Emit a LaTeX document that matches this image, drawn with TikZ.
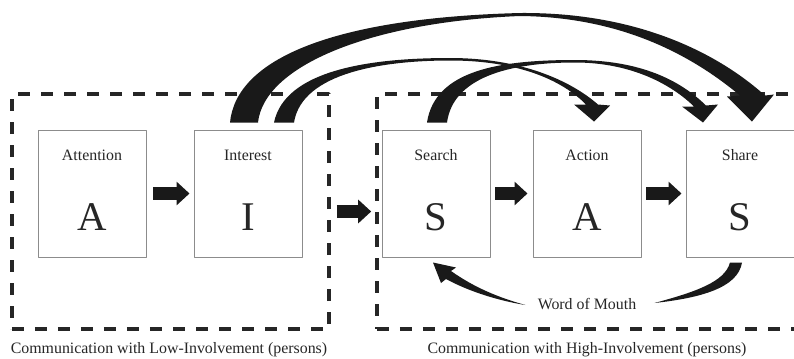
\documentclass[tikz,border=0pt]{standalone}
\usepackage{fontspec}
\setmainfont{Liberation Serif}
\usetikzlibrary{arrows.meta,calc}

\begin{document}
\begin{tikzpicture}[x=0.25mm,y=0.25mm,line join=round,
        font=\fontsize{11.3}{13}\selectfont,
        stage/.style={draw=black!45,line width=0.7pt,minimum width=27mm,minimum height=31.75mm,inner sep=0pt},
        tag/.style={text=black!85,inner sep=0pt},
        letter/.style={text=black!85,inner sep=0pt,font=\fontsize{29}{32}\selectfont},
        group/.style={draw=black!85,line width=0.9mm,dash pattern=on 3mm off 2.75mm,minimum height=58.75mm,inner sep=0pt},
        blockarrow/.style={draw=black!90,line width=3.25mm,-{Triangle[length=3.25mm,width=5.75mm]}},
        sweep/.style={fill=black!90}]
    \useasboundingbox (0,0) rectangle (794,-358);
    \clip (0,0) rectangle (794,-358);
    % dashed groups
    \node[group,minimum width=79.25mm] (low) at (170.5,-211.5) {};
    \node[group,minimum width=108.25mm] (high) at (593.5,-211.5) {};
    \node[tag] (lowcap) at (169,-350) {Communication with Low-Involvement (persons)};
    \node[tag] (highcap) at (587,-350) {Communication with High-Involvement (persons)};
    % stages
    \node[stage] (att) at (92,-193.5) {};
    \node[stage] (int) at (248,-193.5) {};
    \node[stage] (srch) at (436,-193.5) {};
    \node[stage] (act) at (587,-193.5) {};
    \node[stage] (shr) at (740,-193.5) {};
    \node[tag] (attname) at ([yshift=-6.5mm]att.north) {Attention};
    \node[tag] (intname) at ([yshift=-6.5mm]int.north) {Interest};
    \node[tag] (srchname) at ([yshift=-6.5mm]srch.north) {Search};
    \node[tag] (actname) at ([yshift=-6.5mm]act.north) {Action};
    \node[tag] (shrname) at ([yshift=-6.5mm]shr.north) {Share};
    \node[letter] (attletter) at ([yshift=-5.9mm]att.center) {A};
    \node[letter] (intletter) at ([yshift=-5.9mm]int.center) {I};
    \node[letter] (srchletter) at ([yshift=-5.9mm]srch.center) {S};
    \node[letter] (actletter) at ([yshift=-5.9mm]act.center) {A};
    \node[letter] (shrletter) at ([yshift=-5.9mm]shr.center) {S};
    % straight arrows
    \draw[blockarrow,shorten <=1.75mm,shorten >=1mm] (att) -- (int);
    \draw[blockarrow,shorten <=1.5mm,shorten >=1mm] (low) -- (high);
    \draw[blockarrow,shorten <=1.25mm,shorten >=1.25mm] (srch) -- (act);
    \draw[blockarrow,shorten <=1.25mm,shorten >=1mm] (act) -- (shr);
    % Interest -> Share
    \fill[sweep] ($(int.north)+(-18,7)$) .. controls (236,-60) and (330,-18) .. (520,-13)
        .. controls (640,-12) and (720,-55) .. ($(shr.north)+(25,34)$)
        -- ($(shr.north)+(34,35)$) -- ($(shr.north)+(12,8)$) -- ($(shr.north)+(-13,33)$)
        -- ($(shr.north)+(0,34)$) .. controls (695,-58) and (625,-17) .. (520,-16)
        .. controls (370,-22) and (264,-66) .. ($(int.north)+(10,7)$) -- cycle;
    % Interest -> Action
    \fill[sweep] ($(int.north)+(26,7)$) .. controls (285,-70) and (370,-58) .. (450,-58)
        .. controls (520,-58) and (570,-80) .. ($(act.north)+(11,25)$)
        -- ($(act.north)+(23,24)$) -- ($(act.north)+(7,8)$) -- ($(act.north)+(-13,25)$)
        -- ($(act.north)+(-1,25)$) .. controls (562,-80) and (518,-60.5) .. (450,-60.5)
        .. controls (385,-60.5) and (302,-72) .. ($(int.north)+(46,7)$) -- cycle;
    % Search -> Share
    \fill[sweep] ($(srch.north)+(-9,7)$) .. controls (435,-70) and (500,-60) .. (575,-60)
        .. controls (640,-60) and (680,-80) .. ($(shr.north)+(-34,24)$)
        -- ($(shr.north)+(-22,25)$) -- ($(shr.north)+(-37,7)$) -- ($(shr.north)+(-58,23)$)
        -- ($(shr.north)+(-46,23)$) .. controls (672,-85) and (632,-62.5) .. (575,-62.5)
        .. controls (508,-62.5) and (453,-78) .. ($(srch.north)+(11,7)$) -- cycle;
    % word of mouth
    \node[tag] (wom) at (587,-304) {Word of Mouth};
    \fill[sweep] ($(shr.south)+(2,-5)$) .. controls (738,-288) and (700,-298) .. ($(wom.east)+(18,1)$)
        .. controls (695,-292) and (725,-282) .. ($(shr.south)+(-10,-5)$) -- cycle;
    \fill[sweep] ($(srch.south)+(20,-10)$) -- (451,-271) .. controls (475,-288) and (500,-298) .. ($(wom.west)+(-12,-1)$)
        .. controls (500,-301) and (470,-292) .. (446,-279) -- (441,-283) -- ($(srch.south)+(-3,-5)$) -- cycle;
\end{tikzpicture}
\end{document}
